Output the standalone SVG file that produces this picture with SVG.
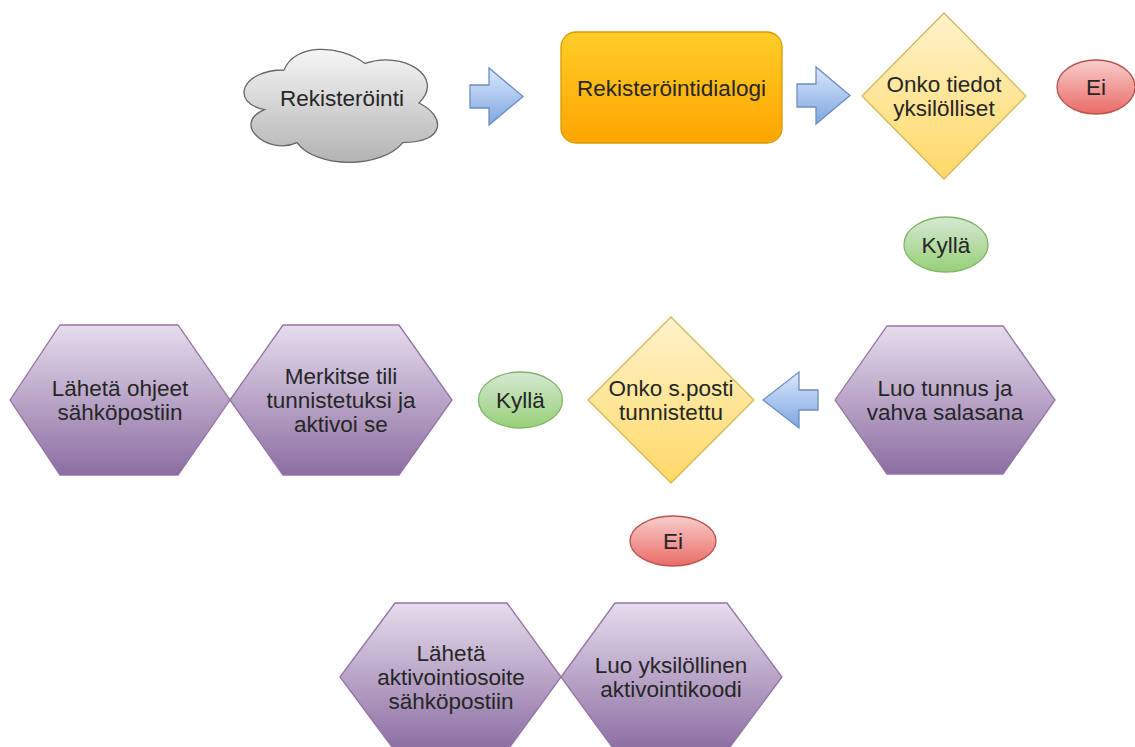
<svg xmlns="http://www.w3.org/2000/svg" width="1135" height="747" viewBox="0 0 1135 747">
  <defs>
    <linearGradient id="gCloud" x1="0" y1="0" x2="0" y2="1">
      <stop offset="0" stop-color="#f5f5f5"/>
      <stop offset="1" stop-color="#b3b3b3"/>
    </linearGradient>
    <linearGradient id="gOrange" x1="0" y1="0" x2="0" y2="1">
      <stop offset="0" stop-color="#ffcd28"/>
      <stop offset="1" stop-color="#ffa500"/>
    </linearGradient>
    <linearGradient id="gYellow" x1="0" y1="0" x2="0" y2="1">
      <stop offset="0" stop-color="#fff2cc"/>
      <stop offset="1" stop-color="#ffd966"/>
    </linearGradient>
    <linearGradient id="gGreen" x1="0" y1="0" x2="0" y2="1">
      <stop offset="0" stop-color="#d5e8d4"/>
      <stop offset="1" stop-color="#97d077"/>
    </linearGradient>
    <linearGradient id="gRed" x1="0" y1="0" x2="0" y2="1">
      <stop offset="0" stop-color="#f8cecc"/>
      <stop offset="1" stop-color="#ea6b66"/>
    </linearGradient>
    <linearGradient id="gPurple" x1="0" y1="0" x2="0" y2="1">
      <stop offset="0" stop-color="#e6dcec"/>
      <stop offset="1" stop-color="#8c6ea2"/>
    </linearGradient>
    <linearGradient id="gBlue" x1="0" y1="0" x2="0" y2="1">
      <stop offset="0" stop-color="#dae8fc"/>
      <stop offset="1" stop-color="#7ea6e0"/>
    </linearGradient>
  </defs>
  <style>
    text { font-family: "Liberation Sans", Arial, sans-serif; font-size: 22.5px; fill: #262626; text-anchor: middle; }
    .cloud { fill: url(#gCloud); stroke: #666666; stroke-width: 1.3; }
    .process { fill: url(#gOrange); stroke: #d79b00; stroke-width: 1.3; }
    .decision { fill: url(#gYellow); stroke: #d6b656; stroke-width: 1.3; }
    .yes { fill: url(#gGreen); stroke: #82b366; stroke-width: 1.3; }
    .no { fill: url(#gRed); stroke: #b85450; stroke-width: 1.3; }
    .step { fill: url(#gPurple); stroke: #9673a6; stroke-width: 1.3; }
    .arrow { fill: url(#gBlue); stroke: #6c8ebf; stroke-width: 1.3; stroke-linejoin: miter; }
  </style>

  <rect width="1135" height="747" fill="#ffffff"/>

  <!-- block arrows between steps -->
  <g id="connectors">
    <polygon class="arrow" points="470,85 489,85 489,68 523,96.5 489,125 489,108 470,108"/>
    <polygon class="arrow" points="797,84 816,84 816,67 850,95.5 816,124 816,107 797,107"/>
    <polygon class="arrow" points="818,390 799,390 799,372 763,400 799,428 799,410 818,410"/>
  </g>

  <g id="rekisterointi">
    <path class="cloud" d="M284,70 C240.8,70 230,103 264.6,109.6 C230,124.1 268.9,155.8 297,142.6 C316.4,169 381.2,169 402.8,142.6 C446,142.6 446,116.2 419,103 C446,76.6 402.8,50.2 365,63.4 C338,43.6 294.8,43.6 284,70 Z"/>
    <text x="342" y="106">Rekisteröinti</text>
  </g>

  <g id="dialogi">
    <rect class="process" x="561" y="32" width="221" height="111" rx="15" ry="15"/>
    <text x="671.5" y="95.5">Rekisteröintidialogi</text>
  </g>

  <g id="tiedot-yksilolliset">
    <polygon class="decision" points="944,13 1026,96 944,179 862,96"/>
    <text x="944" y="92">Onko tiedot</text>
    <text x="944" y="116">yksilölliset</text>
  </g>

  <g id="ei-1">
    <ellipse class="no" cx="1096" cy="87" rx="39" ry="27"/>
    <text x="1096" y="95">Ei</text>
  </g>

  <g id="kylla-1">
    <ellipse class="yes" cx="946" cy="244.5" rx="42" ry="27.5"/>
    <text x="946" y="252.5">Kyllä</text>
  </g>

  <g id="luo-tunnus">
    <polygon class="step" points="835,400 887,326 1003,326 1055,400 1003,474 887,474"/>
    <text x="945" y="396">Luo tunnus ja</text>
    <text x="945" y="420">vahva salasana</text>
  </g>

  <g id="sposti-tunnistettu">
    <polygon class="decision" points="671,317 754,400 671,483 588,400"/>
    <text x="671" y="396">Onko s.posti</text>
    <text x="671" y="420">tunnistettu</text>
  </g>

  <g id="kylla-2">
    <ellipse class="yes" cx="520.5" cy="400" rx="42" ry="28"/>
    <text x="520.5" y="408">Kyllä</text>
  </g>

  <g id="merkitse-tili">
    <polygon class="step" points="230,400 283,325 399,325 452,400 399,475 283,475"/>
    <text x="341" y="384">Merkitse tili</text>
    <text x="341" y="408">tunnistetuksi ja</text>
    <text x="341" y="432">aktivoi se</text>
  </g>

  <g id="laheta-ohjeet">
    <polygon class="step" points="10,400 60,325 178,325 230,400 178,475 60,475"/>
    <text x="120" y="396">Lähetä ohjeet</text>
    <text x="120" y="420">sähköpostiin</text>
  </g>

  <g id="ei-2">
    <ellipse class="no" cx="673" cy="541" rx="43" ry="25"/>
    <text x="673" y="549">Ei</text>
  </g>

  <g id="luo-koodi">
    <polygon class="step" points="561,677 615,603 727,603 782,677 727,751 615,751"/>
    <text x="671" y="673">Luo yksilöllinen</text>
    <text x="671" y="697">aktivointikoodi</text>
  </g>

  <g id="laheta-aktivointi">
    <polygon class="step" points="340,677 395,603 507,603 561,677 507,751 395,751"/>
    <text x="451" y="661">Lähetä</text>
    <text x="451" y="685">aktivointiosoite</text>
    <text x="451" y="709">sähköpostiin</text>
  </g>
</svg>
